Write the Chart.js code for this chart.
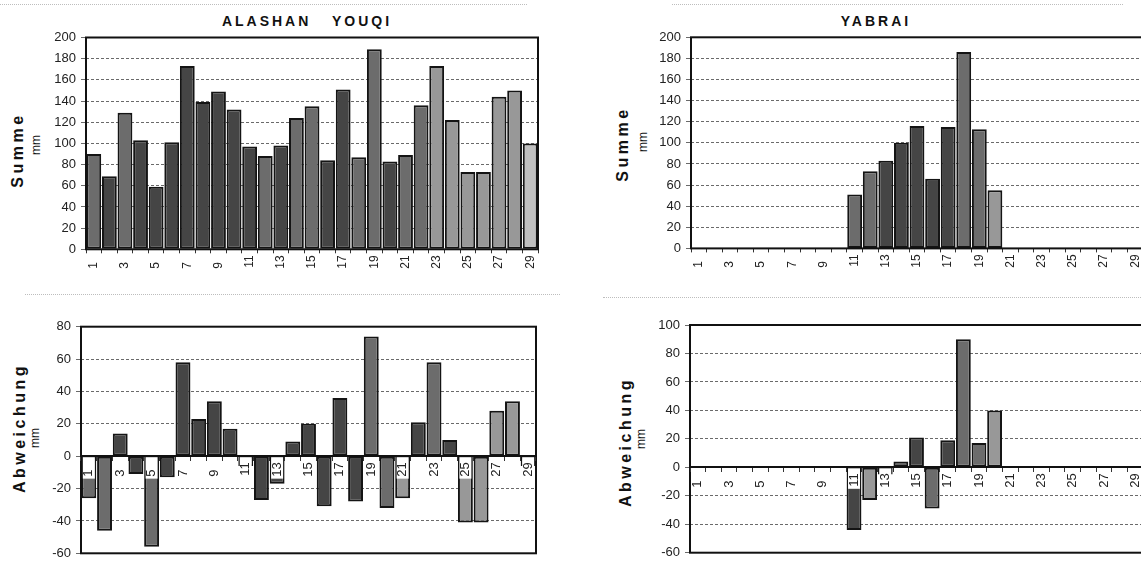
<!DOCTYPE html>
<html>
<head>
<meta charset="utf-8">
<script src="https://cdn.jsdelivr.net/npm/chart.js@4.4.1/dist/chart.umd.min.js"></script>
<style>
html, body { margin: 0; padding: 0; background: #fff; overflow: hidden; width: 1141px; height: 581px; }
body { position: relative; font-family: "Liberation Sans", Arial, sans-serif; color: #111; }
canvas { position: absolute; }
.t { position: absolute; white-space: nowrap; transform: translate(-50%, -50%); }
.title { font-weight: bold; font-size: 14px; letter-spacing: 3px; }
.ax { font-weight: bold; font-size: 16px; letter-spacing: 3.5px; transform: translate(-50%, -50%) rotate(-90deg); }
.unit { font-size: 12px; transform: translate(-50%, -50%) rotate(-90deg); }
.sep { position: absolute; height: 0; border-top: 1px dotted #bdbdbd; }
</style>
</head>
<body>
<div class="sep" style="left:0;top:4px;width:527px"></div>
<div class="sep" style="left:672px;top:4px;width:451px"></div>
<div class="sep" style="left:25px;top:294px;width:535px"></div>
<div class="sep" style="left:603px;top:297px;width:538px"></div>

<div class="t title" style="left:307px;top:21px">ALASHAN&nbsp;&nbsp;&nbsp;YOUQI</div>
<div class="t title" style="left:876px;top:21px">YABRAI</div>

<div class="t ax" style="left:18px;top:150px">Summe</div>
<div class="t unit" style="left:36px;top:145px">mm</div>
<div class="t ax" style="left:20px;top:428px">Abweichung</div>
<div class="t unit" style="left:35px;top:438px">mm</div>
<div class="t ax" style="left:623px;top:144px">Summe</div>
<div class="t unit" style="left:643px;top:142px">mm</div>
<div class="t ax" style="left:626px;top:442px">Abweichung</div>
<div class="t unit" style="left:641px;top:439px">mm</div>

<canvas id="alashanSumme" width="560" height="290" style="left:0;top:0"></canvas>
<canvas id="yabraiSumme" width="600" height="290" style="left:570px;top:0"></canvas>
<canvas id="alashanAbw" width="560" height="286" style="left:0;top:295px"></canvas>
<canvas id="yabraiAbw" width="600" height="286" style="left:570px;top:295px"></canvas>

<script>
const years = ['1', '2', '3', '4', '5', '6', '7', '8', '9', '10', '11', '12', '13', '14', '15',
               '16', '17', '18', '19', '20', '21', '22', '23', '24', '25', '26', '27', '28', '29'];

// Alashan Youqi: sums and deviations (mm)
const alashanSumme = [90, 69, 129, 103, 59, 101, 173, 139, 149, 132, 97, 88, 98, 124, 135,
                      84, 151, 87, 189, 83, 89, 136, 173, 122, 73, 73, 144, 150, 100];
const alashanAbw = [-26, -46, 14, -11, -56, -13, 58, 23, 34, 17, -6, -27, -17, 9, 20,
                    -31, 36, -28, 74, -32, -26, 21, 58, 10, -41, -41, 28, 34, -6];

// Yabrai: only 11..20 recorded
const yabraiSumme = [null, null, null, null, null, null, null, null, null, null,
                     51, 73, 83, 100, 116, 66, 115, 186, 113, 55,
                     null, null, null, null, null, null, null, null, null];
const yabraiAbw = [null, null, null, null, null, null, null, null, null, null,
                   -44, -23, -5, 4, 21, -29, 19, 90, 17, 40,
                   null, null, null, null, null, null, null, null, null];

const summeRange = [0, 200];
const alashanAbwRange = [-60, 80];
const yabraiAbwRange = [-60, 100];

// bar shading (d = dark, m = medium, l = light, v = very light)
const greys = { d: '#454545', m: '#6c6c6c', l: '#989898', v: '#c0c0c0' };
const shadeAlashanSumme = 'mdmddddddddmdmmddmmdmmllllllv';
const shadeAlashanAbw = 'mmddmdddddldddddddmmldmdlllll';
const shadeYabraiSumme = 'dddddddddd' + 'mmdddddmml' + 'ddddddddd';
const shadeYabraiAbw = 'dddddddddd' + 'dlmddmdmml' + 'ddddddddd';

const frame = {
    id: 'frame',
    afterDatasetsDraw(chart) {
        const { ctx, chartArea: a } = chart;
        ctx.save();
        ctx.lineWidth = 2;
        ctx.strokeStyle = '#111';
        ctx.strokeRect(a.left, a.top, a.right - a.left, a.bottom - a.top);
        ctx.restore();
    }
};

// white boxes behind the category labels that sit on the zero line
const labelBoxes = {
    id: 'labelBoxes',
    afterDatasetsDraw(chart) {
        const sx = chart.scales.x;
        const y0 = chart.scales.y.getPixelForValue(0);
        const ctx = chart.ctx;
        ctx.save();
        ctx.font = '13px "Liberation Sans"';
        ctx.fillStyle = '#fff';
        sx.ticks.forEach((t, i) => {
            if (!t.label) return;
            const x = sx.getPixelForTick(i);
            const w = ctx.measureText(t.label).width;
            ctx.fillRect(x - 6, y0 + 1, 12, w + 7);
        });
        ctx.restore();
    }
};

function barChart(id, values, shades, range, box) {
    const zero = box.zero;
    return new Chart(document.getElementById(id), {
        type: 'bar',
        data: {
            labels: years,
            datasets: [{
                data: values,
                backgroundColor: shades.split('').map(s => greys[s]),
                borderColor: '#141414',
                borderWidth: 2,
                borderSkipped: false,
                categoryPercentage: 1,
                barPercentage: 0.95
            }]
        },
        options: {
            responsive: false,
            animation: false,
            layout: { padding: { top: box.top, right: box.right, bottom: box.bottom, left: 0 } },
            plugins: { legend: { display: false }, tooltip: { enabled: false } },
            scales: {
                x: {
                    axis: 'x',
                    position: zero ? { y: 0 } : 'bottom',
                    afterFit: zero ? undefined : (s) => { s.height = box.xHeight; },
                    grid: { drawOnChartArea: false, drawTicks: true, tickLength: 4, color: '#333', z: zero ? 1 : -1 },
                    border: { display: zero, color: '#111', width: 2, z: zero ? 1 : 0 },
                    ticks: {
                        z: zero ? 2 : 0,
                        autoSkip: false,
                        minRotation: 90,
                        maxRotation: 90,
                        padding: 2,
                        color: '#222',
                        font: { family: 'Liberation Sans', size: zero ? 13 : 12 },
                        callback: function (v, i) {
                            if (i % 2 === 1) return '';
                            const l = this.getLabelForValue(v);
                            return l.length < 2 ? l + '\u2007' : l;
                        }
                    }
                },
                y: {
                    min: range[0],
                    max: range[1],
                    afterFit: (s) => { s.width = box.axisW; },
                    ticks: { stepSize: 20, padding: 5, color: '#222', font: { family: 'Liberation Sans', size: 13 } },
                    grid: { color: '#6a6a6a', lineWidth: 1, tickLength: 5 },
                    border: { display: false, dash: [3, 2] }
                }
            }
        },
        plugins: zero ? [frame, labelBoxes] : [frame]
    });
}

barChart('alashanSumme', alashanSumme, shadeAlashanSumme, summeRange,
    { top: 37.5, right: 22, bottom: 0, axisW: 86, xHeight: 40.7, zero: false });
barChart('yabraiSumme', yabraiSumme, shadeYabraiSumme, summeRange,
    { top: 37.3, right: 27, bottom: 0, axisW: 121, xHeight: 41.6, zero: false });
barChart('alashanAbw', alashanAbw, shadeAlashanAbw, alashanAbwRange,
    { top: 31.7, right: 24, bottom: 27.7, axisW: 81, zero: true });
barChart('yabraiAbw', yabraiAbw, shadeYabraiAbw, yabraiAbwRange,
    { top: 30, right: 27, bottom: 28.3, axisW: 120, zero: true });
</script>
</body>
</html>
